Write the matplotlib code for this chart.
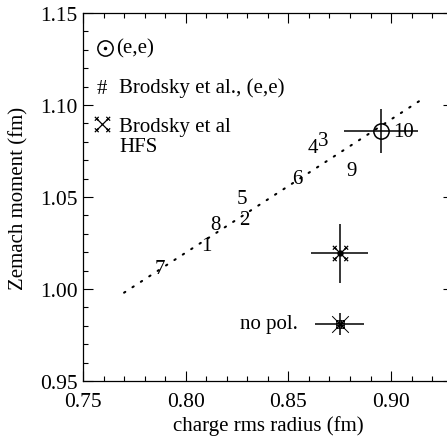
import matplotlib
matplotlib.use("Agg")
import matplotlib.pyplot as plt
from matplotlib.path import Path
from matplotlib.ticker import MultipleLocator

plt.rcParams['font.family'] = ['Liberation Serif', 'DejaVu Serif']
plt.rcParams['font.size'] = 15

# Model trend (dotted line)
line_x = [0.770, 0.917]
line_y = [0.998, 1.1045]

# Model labels
label_text = ["1", "2", "3", "4", "5", "6", "7", "8", "9", "10"]
label_x = [0.810, 0.8285, 0.8667, 0.8621, 0.8273, 0.8543, 0.7875, 0.8143, 0.8808, 0.906]
label_y = [1.0234, 1.0375, 1.0807, 1.0767, 1.0494, 1.0602, 1.0112, 1.0348, 1.0644, 1.0854]

# (e,e) point
ee_x, ee_y, ee_xerr, ee_yerr = 0.895, 1.086, 0.018, 0.012
# Brodsky HFS point
hfs_x, hfs_y, hfs_xerr, hfs_yerr = 0.875, 1.0194, 0.014, 0.016
# no pol. point
np_x, np_y, np_xerr, np_yerr = 0.875, 0.981, 0.012, 0.006

legend_labels = ["(e,e)", "Brodsky et al., (e,e)", "Brodsky et al\nHFS"]

FS = 15
TFS = 15.5

# custom markers
def hfs_marker():
    verts, codes = [], []
    def seg(a, b):
        verts.extend([a, b]); codes.extend([Path.MOVETO, Path.LINETO])
    seg((-0.75, -0.75), (0.75, 0.75))
    seg((-0.75, 0.75), (0.75, -0.75))
    s = 0.25
    for cx, cy in [(0.75, 0.75), (-0.75, 0.75), (0.75, -0.75), (-0.75, -0.75)]:
        seg((cx - s, cy - s), (cx + s, cy + s))
        seg((cx - s, cy + s), (cx + s, cy - s))
    return Path(verts, codes)

def nopol_marker():
    verts, codes = [], []
    def seg(a, b):
        verts.extend([a, b]); codes.extend([Path.MOVETO, Path.LINETO])
    h = 0.45
    seg((-h, -h), (h, -h)); seg((h, -h), (h, h)); seg((h, h), (-h, h)); seg((-h, h), (-h, -h))
    for t in (-h / 3, h / 3):
        seg((t, -h), (t, h)); seg((-h, t), (h, t))
    seg((-1, -1), (1, 1)); seg((-1, 1), (1, -1))
    return Path(verts, codes)

W, H = 447, 439
fig = plt.figure(figsize=(W / 100, H / 100), dpi=100)
ax_left, ax_right, ax_top, ax_bot = 83, 452.7, 14, 382
ax = fig.add_axes([ax_left / W, 1 - ax_bot / H, (ax_right - ax_left) / W, (ax_bot - ax_top) / H])

ax.set_xlim(0.75, 0.93)
ax.set_ylim(0.95, 1.15)

# dotted model line
ax.plot(line_x, line_y, color='black', lw=1.5, linestyle=(0, (0.7, 4.1)), dash_capstyle='round')

for t, x, y in zip(label_text, label_x, label_y):
    ax.text(x, y, t, ha='center', va='center', fontsize=FS)

# error bars
ebkw = dict(fmt='none', ecolor='black', elinewidth=1.1, capsize=0)
ax.errorbar([ee_x], [ee_y], xerr=[ee_xerr], yerr=[ee_yerr], **ebkw)
ax.errorbar([hfs_x], [hfs_y], xerr=[hfs_xerr], yerr=[hfs_yerr], **ebkw)
ax.errorbar([np_x], [np_y], xerr=[np_xerr], yerr=[np_yerr], **ebkw)

ax.plot([ee_x], [ee_y], marker='o', ms=11, mfc='none', mec='black', mew=1.1, ls='none')
ax.plot([hfs_x], [hfs_y], marker=hfs_marker(), ms=11, mec='black', mew=0.9, ls='none')
ax.plot([hfs_x], [hfs_y], marker='o', ms=3.5, mfc='black', mec='black', ls='none')
ax.plot([np_x], [np_y], marker=nopol_marker(), ms=12, mec='black', mew=0.7, ls='none')

ax.text(0.8545, np_y, "no pol.", ha='right', va='center', fontsize=FS)

# legend drawn manually
def axc(px, py):
    return (px - ax_left) / (ax_right - ax_left), (ax_bot - py) / (ax_bot - ax_top)

mx, my = axc(105, 49)
ax.plot([mx], [my], transform=ax.transAxes, marker='o', ms=11, mfc='none', mec='black', mew=1.1, ls='none')
ax.plot([mx], [my], transform=ax.transAxes, marker='o', ms=1.5, mfc='black', mec='black', ls='none')
tx, ty = axc(116, 49)
ax.text(tx, ty, legend_labels[0], transform=ax.transAxes, ha='left', va='center', fontsize=FS)

mx, my = axc(102, 90)
ax.text(mx, my, "#", transform=ax.transAxes, ha='center', va='center', fontsize=FS)
tx, ty = axc(119, 88)
ax.text(tx, ty, legend_labels[1], transform=ax.transAxes, ha='left', va='center', fontsize=FS)

mx, my = axc(102, 125)
ax.plot([mx], [my], transform=ax.transAxes, marker=hfs_marker(), ms=11, mec='black', mew=0.9, ls='none')
tx, ty = axc(119, 118)
ax.text(tx, ty, legend_labels[2], transform=ax.transAxes, ha='left', va='top', fontsize=FS, linespacing=1.1)

# ticks
ax.xaxis.set_major_locator(MultipleLocator(0.05))
ax.xaxis.set_minor_locator(MultipleLocator(0.01))
ax.yaxis.set_major_locator(MultipleLocator(0.05))
ax.yaxis.set_minor_locator(MultipleLocator(0.01))
ax.xaxis.set_major_formatter(plt.FuncFormatter(lambda v, p: f"{v:.2f}"))
ax.yaxis.set_major_formatter(plt.FuncFormatter(lambda v, p: f"{v:.2f}"))
ax.tick_params(which='both', direction='in', top=True, right=True, labelsize=TFS, width=0.8)
ax.tick_params(which='major', length=7.2)
ax.tick_params(which='minor', length=3.6)
ax.tick_params(axis='x', which='major', pad=8)
ax.tick_params(axis='y', which='major', pad=4)
for s in ax.spines.values():
    s.set_linewidth(0.9)

ax.set_xlabel("charge rms radius (fm)", fontsize=FS, labelpad=3)
ax.set_ylabel("Zemach moment (fm)", fontsize=FS, labelpad=8)

fig.savefig("out.png", dpi=100)
